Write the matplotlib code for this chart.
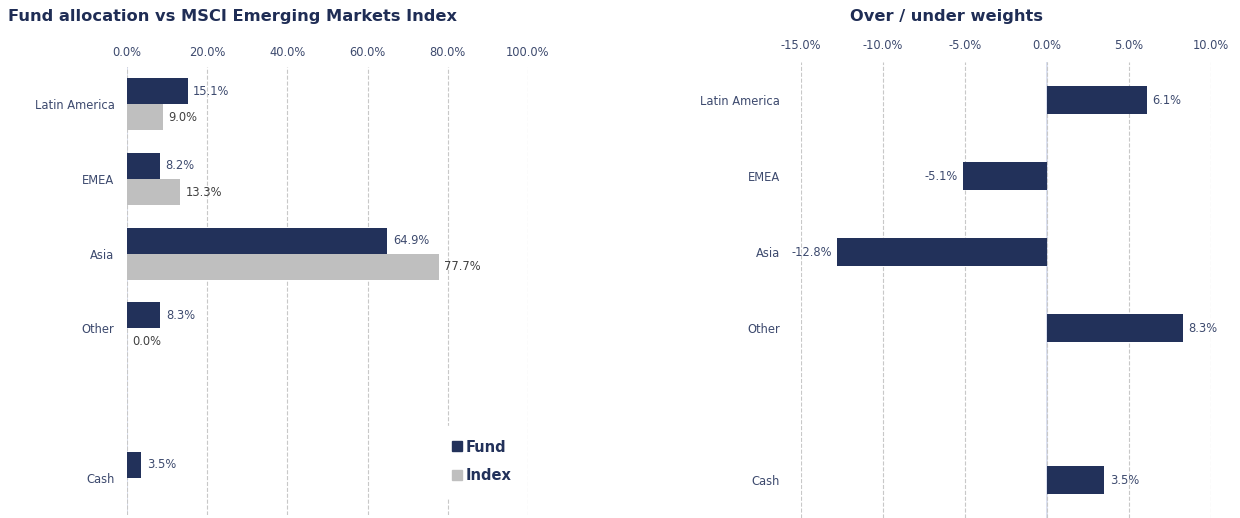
import numpy as np
import matplotlib.pyplot as plt
from matplotlib.lines import Line2D

# data
categories = ['Latin America', 'EMEA', 'Asia', 'Other', '', 'Cash']
fund = [15.1, 8.2, 64.9, 8.3, np.nan, 3.5]
index = [9.0, 13.3, 77.7, 0.0, np.nan, np.nan]
over_under = [6.1, -5.1, -12.8, 8.3, np.nan, 3.5]
left_ticks = [0, 20, 40, 60, 80, 100]
right_ticks = [-15, -10, -5, 0, 5, 10]

navy = '#22315a'
grey = '#bfbfbf'
text_col = '#3d4a6e'
label_grey = '#404040'
axis_col = '#d6dcef'

plt.rcParams['font.family'] = ['DejaVu Sans']

fig = plt.figure(figsize=(12.4, 5.18), dpi=100)
ax1 = fig.add_axes([127 / 1240, 1 - 515 / 518, (528 - 127) / 1240, (515 - 67) / 518])
ax2 = fig.add_axes([801 / 1240, 0, (1211 - 801) / 1240, (518 - 62) / 518])

y = np.arange(len(categories))
h = 0.35


def style_axis(ax, ticks, xlim, xpad, ypad):
    ax.set_xlim(*xlim)
    ax.set_ylim(len(categories) - 0.5, -0.5)
    ax.set_xticks(ticks)
    ax.set_xticklabels(['%.1f%%' % t for t in ticks], fontsize=8.3, color=text_col)
    ax.xaxis.tick_top()
    ax.tick_params(axis='x', length=0, pad=xpad)
    ax.tick_params(axis='y', length=0, pad=ypad)
    for s in ax.spines.values():
        s.set_visible(False)
    ax.grid(True, axis='x', linestyle='--', color='#c8c8c8', linewidth=0.8, zorder=0)
    ax.axvline(0, color=axis_col, linewidth=1.2, zorder=1)
    ax.set_yticks(y)
    ax.set_yticklabels(categories, fontsize=8.3, color=text_col)


# left chart
style_axis(ax1, left_ticks, (0, 100), 6, 9)
ax1.barh(y - h / 2, fund, height=h, color=navy, zorder=3)
ax1.barh(y + h / 2, index, height=h, color=grey, zorder=3)
for yi, v in zip(y, fund):
    if not np.isnan(v):
        ax1.annotate('%.1f%%' % v, (v, yi - h / 2), xytext=(4, 0), textcoords='offset points',
                     va='center', ha='left', fontsize=8.3, color=text_col)
for yi, v in zip(y, index):
    if not np.isnan(v):
        ax1.annotate('%.1f%%' % v, (v, yi + h / 2), xytext=(4, 0), textcoords='offset points',
                     va='center', ha='left', fontsize=8.3, color=label_grey)

handles = [Line2D([], [], marker='s', linestyle='', color=navy, markersize=7),
           Line2D([], [], marker='s', linestyle='', color=grey, markersize=7)]
leg = ax1.legend(handles, ['Fund', 'Index'], loc='lower right', bbox_to_anchor=(1.01, 0.025),
                 frameon=True, framealpha=1, edgecolor='white', handlelength=0.6,
                 handletextpad=0.3, labelspacing=0.95, borderpad=0.9,
                 prop={'weight': 'bold', 'size': 10.5})
for t in leg.get_texts():
    t.set_color(navy)

# right chart
style_axis(ax2, right_ticks, (-15, 10), 7, 15)
ax2.barh(y, over_under, height=0.36, color=navy, zorder=3)
for yi, v in zip(y, over_under):
    if not np.isnan(v):
        if v >= 0:
            ax2.annotate('%.1f%%' % v, (v, yi), xytext=(4, 0), textcoords='offset points',
                         va='center', ha='left', fontsize=8.3, color=text_col)
        else:
            ax2.annotate('%.1f%%' % v, (v, yi), xytext=(-4, 0), textcoords='offset points',
                         va='center', ha='right', fontsize=8.3, color=text_col)

fig.text(8 / 1240, 1 - 16 / 518, 'Fund allocation vs MSCI Emerging Markets Index',
         fontsize=11.7, fontweight='bold', color='#1f2d55', ha='left', va='center')
fig.text(947 / 1240, 1 - 16 / 518, 'Over / under weights',
         fontsize=11.7, fontweight='bold', color='#1f2d55', ha='center', va='center')

fig.savefig('out.png', dpi=100)
